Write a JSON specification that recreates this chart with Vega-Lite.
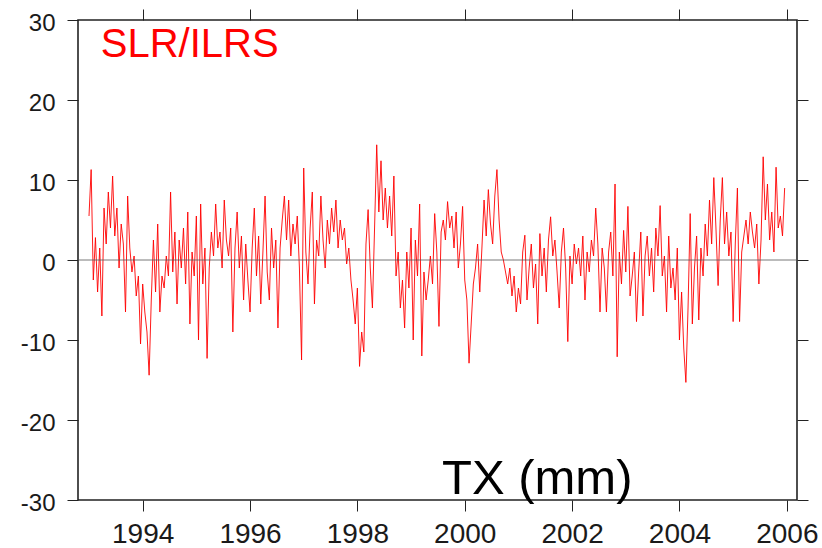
{
  "$schema": "https://vega.github.io/schema/vega-lite/v6.json",
  "width": 719,
  "height": 480,
  "autosize": "none",
  "padding": {"left": 78, "top": 20, "right": 25, "bottom": 48},
  "background": "white",
  "config": {
    "view": {"stroke": "#222222", "strokeWidth": 1.6},
    "font": "Liberation Sans"
  },
  "datasets": {
    "tx": [
      {"t":1993.00,"v":5.5},{"t":1993.04,"v":11.3},{"t":1993.08,"v":-2.5},{"t":1993.12,"v":2.8},{"t":1993.16,"v":-4.0},{"t":1993.20,"v":1.5},{"t":1993.24,"v":-7.0},{"t":1993.28,"v":6.5},{"t":1993.32,"v":2.0},{"t":1993.36,"v":8.5},{"t":1993.40,"v":4.0},{"t":1993.44,"v":10.5},{"t":1993.48,"v":3.0},{"t":1993.52,"v":6.5},{"t":1993.56,"v":-1.0},{"t":1993.60,"v":4.5},{"t":1993.64,"v":2.0},{"t":1993.68,"v":-6.5},{"t":1993.72,"v":8.0},{"t":1993.76,"v":1.5},{"t":1993.80,"v":-1.5},{"t":1993.84,"v":0.5},{"t":1993.88,"v":-4.5},{"t":1993.92,"v":-2.0},{"t":1993.96,"v":-10.5},
      {"t":1994.00,"v":-3.0},{"t":1994.04,"v":-6.5},{"t":1994.08,"v":-9.0},{"t":1994.12,"v":-14.4},{"t":1994.16,"v":-5.0},{"t":1994.20,"v":2.5},{"t":1994.24,"v":-4.0},{"t":1994.28,"v":4.5},{"t":1994.32,"v":-6.5},{"t":1994.36,"v":-2.0},{"t":1994.40,"v":-3.5},{"t":1994.44,"v":0.5},{"t":1994.48,"v":-2.0},{"t":1994.52,"v":8.5},{"t":1994.56,"v":-1.5},{"t":1994.60,"v":3.5},{"t":1994.64,"v":-5.5},{"t":1994.68,"v":2.5},{"t":1994.72,"v":-1.0},{"t":1994.76,"v":4.0},{"t":1994.80,"v":-3.0},{"t":1994.84,"v":6.0},{"t":1994.88,"v":-8.0},{"t":1994.92,"v":1.0},{"t":1994.96,"v":-2.0},
      {"t":1995.00,"v":5.5},{"t":1995.04,"v":-10.0},{"t":1995.08,"v":7.0},{"t":1995.12,"v":-3.0},{"t":1995.16,"v":1.5},{"t":1995.20,"v":-12.3},{"t":1995.24,"v":-1.0},{"t":1995.28,"v":3.5},{"t":1995.32,"v":0.5},{"t":1995.36,"v":7.0},{"t":1995.40,"v":1.5},{"t":1995.44,"v":3.5},{"t":1995.48,"v":-1.0},{"t":1995.52,"v":7.5},{"t":1995.56,"v":2.5},{"t":1995.60,"v":0.5},{"t":1995.64,"v":4.0},{"t":1995.68,"v":-9.0},{"t":1995.72,"v":1.5},{"t":1995.76,"v":6.0},{"t":1995.80,"v":-1.0},{"t":1995.84,"v":3.0},{"t":1995.88,"v":-5.0},{"t":1995.92,"v":2.0},{"t":1995.96,"v":-2.5},
      {"t":1996.00,"v":-6.5},{"t":1996.04,"v":1.5},{"t":1996.08,"v":6.5},{"t":1996.12,"v":-2.0},{"t":1996.16,"v":3.0},{"t":1996.20,"v":-5.5},{"t":1996.24,"v":1.0},{"t":1996.28,"v":8.0},{"t":1996.32,"v":-1.5},{"t":1996.36,"v":-5.0},{"t":1996.40,"v":4.0},{"t":1996.44,"v":-1.0},{"t":1996.48,"v":2.5},{"t":1996.52,"v":-8.5},{"t":1996.56,"v":1.5},{"t":1996.60,"v":5.0},{"t":1996.64,"v":8.0},{"t":1996.68,"v":2.5},{"t":1996.72,"v":7.5},{"t":1996.76,"v":0.5},{"t":1996.80,"v":4.5},{"t":1996.84,"v":2.0},{"t":1996.88,"v":5.5},{"t":1996.92,"v":-1.0},{"t":1996.96,"v":-12.5},
      {"t":1997.00,"v":11.5},{"t":1997.04,"v":1.0},{"t":1997.08,"v":-3.0},{"t":1997.12,"v":4.0},{"t":1997.16,"v":8.5},{"t":1997.20,"v":-5.5},{"t":1997.24,"v":2.5},{"t":1997.28,"v":0.5},{"t":1997.32,"v":8.0},{"t":1997.36,"v":2.5},{"t":1997.40,"v":-1.0},{"t":1997.44,"v":5.0},{"t":1997.48,"v":2.0},{"t":1997.52,"v":6.5},{"t":1997.56,"v":3.5},{"t":1997.60,"v":7.5},{"t":1997.64,"v":1.5},{"t":1997.68,"v":5.0},{"t":1997.72,"v":2.5},{"t":1997.76,"v":4.0},{"t":1997.80,"v":-0.5},{"t":1997.84,"v":1.5},{"t":1997.88,"v":-2.5},{"t":1997.92,"v":-5.0},{"t":1997.96,"v":-8.0},
      {"t":1998.00,"v":-3.5},{"t":1998.04,"v":-13.3},{"t":1998.08,"v":-9.0},{"t":1998.12,"v":-11.5},{"t":1998.16,"v":2.0},{"t":1998.20,"v":6.3},{"t":1998.24,"v":-1.0},{"t":1998.28,"v":-6.0},{"t":1998.32,"v":4.0},{"t":1998.36,"v":14.4},{"t":1998.40,"v":6.0},{"t":1998.44,"v":12.4},{"t":1998.48,"v":5.0},{"t":1998.52,"v":9.0},{"t":1998.56,"v":4.0},{"t":1998.60,"v":8.0},{"t":1998.64,"v":3.0},{"t":1998.68,"v":10.5},{"t":1998.72,"v":-2.0},{"t":1998.76,"v":1.0},{"t":1998.80,"v":-6.0},{"t":1998.84,"v":-2.5},{"t":1998.88,"v":-8.5},{"t":1998.92,"v":1.0},{"t":1998.96,"v":-3.5},
      {"t":1999.00,"v":4.0},{"t":1999.04,"v":-10.0},{"t":1999.08,"v":2.5},{"t":1999.12,"v":-2.0},{"t":1999.16,"v":7.0},{"t":1999.20,"v":-12.0},{"t":1999.24,"v":-1.5},{"t":1999.28,"v":-5.0},{"t":1999.32,"v":-2.5},{"t":1999.36,"v":0.5},{"t":1999.40,"v":-3.0},{"t":1999.44,"v":5.8},{"t":1999.48,"v":1.0},{"t":1999.52,"v":-8.3},{"t":1999.56,"v":3.5},{"t":1999.60,"v":5.0},{"t":1999.64,"v":2.5},{"t":1999.68,"v":7.3},{"t":1999.72,"v":4.0},{"t":1999.76,"v":5.5},{"t":1999.80,"v":1.5},{"t":1999.84,"v":6.0},{"t":1999.88,"v":-1.0},{"t":1999.92,"v":2.0},{"t":1999.96,"v":6.7},
      {"t":2000.00,"v":-2.5},{"t":2000.04,"v":-5.0},{"t":2000.08,"v":-12.9},{"t":2000.12,"v":-8.0},{"t":2000.16,"v":-3.0},{"t":2000.20,"v":-1.0},{"t":2000.24,"v":2.0},{"t":2000.28,"v":-4.0},{"t":2000.32,"v":1.5},{"t":2000.36,"v":7.5},{"t":2000.40,"v":3.0},{"t":2000.44,"v":8.8},{"t":2000.48,"v":4.5},{"t":2000.52,"v":2.0},{"t":2000.56,"v":8.0},{"t":2000.60,"v":11.3},{"t":2000.64,"v":5.0},{"t":2000.68,"v":1.0},{"t":2000.72,"v":0.0},{"t":2000.76,"v":-1.5},{"t":2000.80,"v":-3.0},{"t":2000.84,"v":-1.0},{"t":2000.88,"v":-4.5},{"t":2000.92,"v":-2.0},{"t":2000.96,"v":-6.5},
      {"t":2001.00,"v":-3.5},{"t":2001.04,"v":-5.5},{"t":2001.08,"v":1.0},{"t":2001.12,"v":3.1},{"t":2001.16,"v":-5.0},{"t":2001.20,"v":-1.0},{"t":2001.24,"v":2.0},{"t":2001.28,"v":-3.5},{"t":2001.32,"v":-0.5},{"t":2001.36,"v":-8.0},{"t":2001.40,"v":3.3},{"t":2001.44,"v":-2.0},{"t":2001.48,"v":1.5},{"t":2001.52,"v":-4.0},{"t":2001.56,"v":2.5},{"t":2001.60,"v":5.4},{"t":2001.64,"v":0.5},{"t":2001.68,"v":2.5},{"t":2001.72,"v":-1.5},{"t":2001.76,"v":-6.0},{"t":2001.80,"v":1.0},{"t":2001.84,"v":4.0},{"t":2001.88,"v":-1.0},{"t":2001.92,"v":-10.2},{"t":2001.96,"v":0.5},
      {"t":2002.00,"v":-3.0},{"t":2002.04,"v":2.0},{"t":2002.08,"v":-0.5},{"t":2002.12,"v":1.5},{"t":2002.16,"v":-2.0},{"t":2002.20,"v":3.0},{"t":2002.24,"v":-5.0},{"t":2002.28,"v":1.0},{"t":2002.32,"v":-1.5},{"t":2002.36,"v":2.5},{"t":2002.40,"v":0.5},{"t":2002.44,"v":6.5},{"t":2002.48,"v":2.0},{"t":2002.52,"v":-6.5},{"t":2002.56,"v":1.5},{"t":2002.60,"v":-1.0},{"t":2002.64,"v":-6.5},{"t":2002.68,"v":1.0},{"t":2002.72,"v":3.5},{"t":2002.76,"v":-2.0},{"t":2002.80,"v":9.5},{"t":2002.84,"v":-12.1},{"t":2002.88,"v":1.0},{"t":2002.92,"v":-3.0},{"t":2002.96,"v":3.7},
      {"t":2003.00,"v":-1.5},{"t":2003.04,"v":6.7},{"t":2003.08,"v":-4.5},{"t":2003.12,"v":-2.0},{"t":2003.16,"v":1.0},{"t":2003.20,"v":-7.7},{"t":2003.24,"v":-1.5},{"t":2003.28,"v":3.5},{"t":2003.32,"v":-7.0},{"t":2003.36,"v":0.5},{"t":2003.40,"v":3.0},{"t":2003.44,"v":-2.0},{"t":2003.48,"v":1.5},{"t":2003.52,"v":-4.0},{"t":2003.56,"v":4.0},{"t":2003.60,"v":0.5},{"t":2003.64,"v":6.8},{"t":2003.68,"v":-2.0},{"t":2003.72,"v":0.5},{"t":2003.76,"v":-6.5},{"t":2003.80,"v":3.0},{"t":2003.84,"v":-3.5},{"t":2003.88,"v":-1.0},{"t":2003.92,"v":-5.0},{"t":2003.96,"v":1.5},
      {"t":2004.00,"v":-10.0},{"t":2004.04,"v":-4.0},{"t":2004.08,"v":-11.0},{"t":2004.12,"v":-15.3},{"t":2004.16,"v":-6.0},{"t":2004.20,"v":5.8},{"t":2004.24,"v":-8.0},{"t":2004.28,"v":-1.0},{"t":2004.32,"v":3.0},{"t":2004.36,"v":-7.5},{"t":2004.40,"v":1.5},{"t":2004.44,"v":-2.0},{"t":2004.48,"v":4.5},{"t":2004.52,"v":0.5},{"t":2004.56,"v":7.5},{"t":2004.60,"v":2.0},{"t":2004.64,"v":10.3},{"t":2004.68,"v":4.0},{"t":2004.72,"v":-3.2},{"t":2004.76,"v":5.0},{"t":2004.80,"v":10.3},{"t":2004.84,"v":2.0},{"t":2004.88,"v":6.0},{"t":2004.92,"v":0.5},{"t":2004.96,"v":3.5},
      {"t":2005.00,"v":-7.7},{"t":2005.04,"v":2.0},{"t":2005.08,"v":9.0},{"t":2005.12,"v":-7.7},{"t":2005.16,"v":1.0},{"t":2005.20,"v":3.0},{"t":2005.24,"v":5.0},{"t":2005.28,"v":2.0},{"t":2005.32,"v":6.0},{"t":2005.36,"v":3.5},{"t":2005.40,"v":1.5},{"t":2005.44,"v":4.5},{"t":2005.48,"v":-3.0},{"t":2005.52,"v":2.5},{"t":2005.56,"v":12.9},{"t":2005.60,"v":5.0},{"t":2005.64,"v":9.5},{"t":2005.68,"v":2.5},{"t":2005.72,"v":6.0},{"t":2005.76,"v":1.0},{"t":2005.80,"v":11.6},{"t":2005.84,"v":4.0},{"t":2005.88,"v":5.5},{"t":2005.92,"v":3.0},{"t":2005.96,"v":9.0}
    ]
  },
  "layer": [
    {
      "data": {"name": "tx"},
      "mark": {"type": "line", "color": "#ff0000", "strokeWidth": 0.9, "clip": true},
      "encoding": {
        "x": {
          "field": "t", "type": "quantitative",
          "scale": {"domain": [1992.795, 2006.19], "nice": false, "zero": false},
          "axis": {
            "title": null, "values": [1994, 1996, 1998, 2000, 2002, 2004, 2006], "format": "d",
            "grid": false, "domain": false, "tickColor": "#222222", "tickSize": 11, "tickWidth": 1,
            "labelFont": "Liberation Sans", "labelFontSize": 28, "labelColor": "#1a1a1a", "labelPadding": 9, "labelFlush": false
          }
        },
        "y": {
          "field": "v", "type": "quantitative",
          "scale": {"domain": [-30, 30], "nice": false},
          "axis": {
            "title": null, "values": [-30, -20, -10, 0, 10, 20, 30],
            "labelExpr": "'' + datum.value",
            "grid": false, "domain": false, "tickColor": "#222222", "tickSize": 11, "tickWidth": 1,
            "labelFont": "Liberation Sans", "labelFontSize": 24, "labelColor": "#1a1a1a", "labelPadding": 12, "labelFlush": false, "labelBaseline": "middle", "labelOffset": 3
          }
        }
      }
    },
    {
      "data": {"values": [{}]},
      "mark": {"type": "rule", "color": "#555555", "strokeWidth": 0.8},
      "encoding": {"y": {"datum": 0, "type": "quantitative", "axis": null}}
    },
    {
      "data": {"values": [{}]},
      "mark": {"type": "text", "text": "SLR/ILRS", "color": "#ff0000", "font": "Liberation Sans", "fontSize": 40, "align": "center", "baseline": "alphabetic"},
      "encoding": {
        "x": {"datum": 1994.875, "type": "quantitative",
          "axis": {"orient": "top", "title": null, "labels": false, "domain": false, "grid": false, "values": [1994, 1996, 1998, 2000, 2002, 2004, 2006], "tickColor": "#222222", "tickSize": 11, "tickWidth": 1}},
        "y": {"datum": 25.4, "type": "quantitative",
          "axis": {"orient": "right", "title": null, "labels": false, "domain": false, "grid": false, "values": [-30, -20, -10, 0, 10, 20, 30], "tickColor": "#222222", "tickSize": 11, "tickWidth": 1}}
      }
    },
    {
      "data": {"values": [{}]},
      "mark": {"type": "text", "text": "TX (mm)", "color": "#000000", "font": "Liberation Sans", "fontSize": 49, "align": "center", "baseline": "alphabetic"},
      "encoding": {
        "x": {"datum": 2001.35, "type": "quantitative", "axis": null},
        "y": {"datum": -29.25, "type": "quantitative", "axis": null}
      }
    }
  ],
  "resolve": {"scale": {"x": "shared", "y": "shared"}, "axis": {"x": "independent", "y": "independent"}}
}
